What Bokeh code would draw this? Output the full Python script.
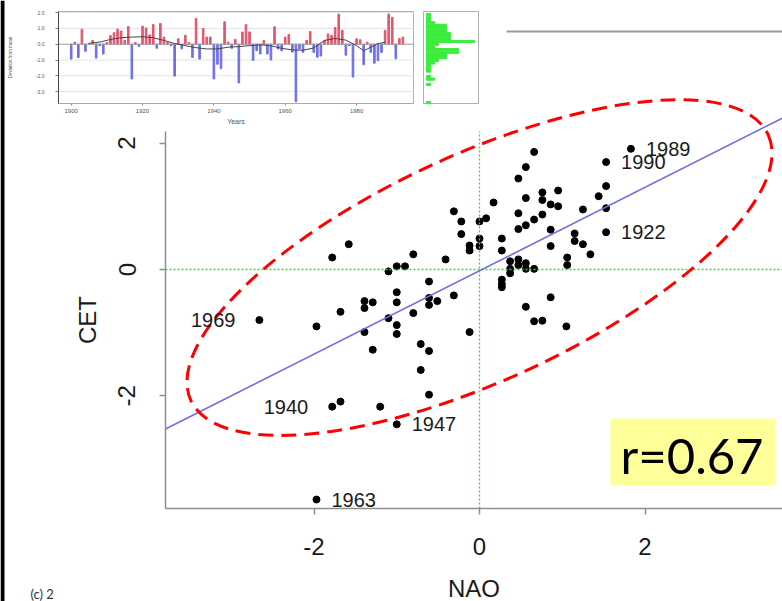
from bokeh.plotting import figure
from bokeh.models import (LinearAxis, FixedTicker, BoxAnnotation, Label,
                          ColumnDataSource, Range1d)
from bokeh.embed import file_html
from bokeh.resources import INLINE
from bokeh.core.properties import value

# ---------------- data ----------------
# main scatter: winter NAO index vs CET anomaly
nao = [1.83, 1.53, 0.66, 0.56, 0.47, 1.53, 0.76, 0.95, 1.44, 0.17,
       0.56, 0.76, 0.86, 0.95, 1.53, 1.25, -0.31, 0.47, 0.76, 0.66,
       -0.22, 0.08, 0.00, 0.56, 0.47, 0.86, 1.53, -0.22, 1.15, 0.00,
       0.27, 1.15, -0.12, 0.00, 0.86, 1.25, -0.12, 0.27, 1.34, -0.41,
       1.06, 0.47, 0.37, 0.56, 0.47, 1.06, 0.37, 0.56, 0.66, 0.37,
       0.27, 0.27, 0.27, -0.31, 0.86, 0.56, 0.66, 0.76, 1.05, -0.12,
       -1.58, -1.78, -0.80, -1.00, -0.90, -1.10, -0.61, -1.00, -1.39, -1.29,
       -1.39, -1.00, -1.68, -0.80, -0.61, -0.51, -0.61, -1.10, -2.66, -1.97,
       -1.39, -1.00, -1.00, -1.29, -0.71, -0.61, -0.71, -0.61, -1.78, -1.68,
       -1.20, -1.00, -1.97]
cet = [1.91, 1.70, 1.86, 1.62, 1.44, 1.32, 1.22, 1.25, 1.16, 1.06,
       1.13, 1.10, 1.03, 1.00, 0.97, 0.95, 0.92, 0.89, 0.87, 0.79,
       0.76, 0.81, 0.76, 0.70, 0.64, 0.63, 0.59, 0.56, 0.57, 0.49,
       0.49, 0.45, 0.38, 0.37, 0.37, 0.40, 0.30, 0.30, 0.24, 0.16,
       0.19, 0.16, 0.13, 0.10, 0.07, 0.07, 0.01, 0.01, 0.01, -0.06,
       -0.16, -0.23, -0.28, -0.41, -0.44, -0.59, -0.82, -0.81, -0.90, -0.99,
       0.40, 0.19, 0.24, 0.05, 0.05, -0.03, -0.19, -0.36, -0.50, -0.52,
       -0.61, -0.52, -0.67, -0.69, -0.45, -0.50, -0.56, -0.77, -0.80, -0.90,
       -0.99, -0.88, -1.02, -1.27, -1.18, -1.29, -1.59, -1.98, -2.17, -2.09,
       -2.17, -2.45, -3.64]

lab_right_years = ["1989", "1990", "1922", "1947", "1963"]
lab_right_nao = [1.83, 1.53, 1.53, -1.00, -1.97]
lab_right_cet = [1.91, 1.70, 0.59, -2.45, -3.64]
lab_left_years = ["1969", "1940"]
lab_left_nao = [-2.66, -1.78]
lab_left_cet = [-0.80, -2.17]

fit_slope = 0.66
fit_intercept = -0.02
r_text = "r=0.67"

main_ticks = [-2, 0, 2]
main_tick_labels = ["-2", "0", "2"]

# inset: CET winter anomaly by year
years = list(range(1900, 1994))
cet_anom = [-0.94, 0.13, -0.84, 0.94, -0.45, 0.05, 0.24, -0.88, -0.10, -0.62,
            0.10, 0.55, 0.73, 0.95, 0.84, 0.24, 1.12, -2.20, 0.10, -0.15,
            1.14, 1.03, 0.59, 1.24, -0.26, 1.31, 0.45, 0.10, -0.10, -2.02,
            0.34, -0.30, 0.56, 0.10, -0.84, 1.63, -0.94, 0.99, 0.45, 0.45,
            -2.20, -1.27, -1.55, 1.42, 0.13, -0.26, 0.30, -2.45, 0.77, 1.24,
            0.78, -1.03, -0.41, -0.62, 0.24, -0.62, -1.00, 1.10, -0.30, -0.41,
            0.45, 0.62, -0.50, -3.64, -0.30, -0.52, 0.24, 0.80, -0.52, -0.82,
            -0.75, 0.24, 0.65, 0.56, 1.05, 1.90, 0.88, -0.70, -0.10, -2.08,
            0.34, 0.28, -1.30, 0.13, -0.52, -1.20, -1.05, -0.52, 0.88, 1.91,
            1.70, -0.92, 0.36, 0.45]
smooth_years = [1905, 1908, 1911, 1914, 1917, 1920, 1923, 1926, 1929, 1932,
                1935, 1938, 1941, 1944, 1947, 1950, 1953, 1956, 1959, 1962,
                1965, 1968, 1971, 1974, 1977, 1980, 1982, 1984, 1986, 1988]
smooth_vals = [0.06, 0.13, 0.30, 0.41, 0.45, 0.47, 0.41, 0.24, 0.04, -0.09,
               -0.22, -0.30, -0.30, -0.19, -0.15, -0.09, -0.04, -0.10, -0.26, -0.36,
               -0.38, -0.24, 0.24, 0.36, 0.26, -0.09, -0.42, -0.19, 0.04, 0.12]
inset_yticks = [-3, -2, -1, 0, 1, 2]
inset_ytick_labels = ["-3.0", "-2.0", "-1.0", "0.0", "1.0", "2.0"]
inset_xticks = [1900, 1920, 1940, 1960, 1980]

# histogram of the anomalies
hist_centers = [1.87, 1.70, 1.53, 1.36, 1.19, 1.02, 0.85, 0.68, 0.51, 0.34,
                0.17, 0.00, -0.17, -0.34, -0.51, -0.68, -0.85, -1.02, -1.19, -1.36,
                -1.53, -1.70, -2.04, -2.21, -2.55, -3.70]
hist_counts = [1, 1, 1, 2, 5, 5, 5, 6, 6, 6,
               12, 3, 2, 8, 8, 5, 5, 3, 2, 1,
               1, 1, 1, 2, 1, 1]

# ---------------- layout helpers (picture pixels -> ranges) ----------------
CW, CH = 782, 601      # canvas size
OX, OY = 0, 0          # picture offset of the canvas


class Mapper:
    def __init__(self, px_at, xval_at, xppu, py_at, yval_at, yppu):
        self.px_at, self.xval_at, self.xppu = px_at, xval_at, xppu
        self.py_at, self.yval_at, self.yppu = py_at, yval_at, yppu

    def x(self, px):
        return self.xval_at + (px - self.px_at) / self.xppu

    def y(self, py):
        return self.yval_at + (self.py_at - py) / self.yppu

    def xrange(self):
        return Range1d(self.x(OX), self.x(OX + CW))

    def yrange(self):
        return Range1d(self.y(OY + CH), self.y(OY))


M = Mapper(479, 0.0, 82.75, 269, 0.0, 63.2)       # main scatter
I = Mapper(70.7, 1900.0, 3.567, 43.7, 0.0, 15.8)  # inset bars
Hm = Mapper(426, 0.0, 4.0, 43.7, 0.0, 15.8)       # inset histogram

mb_left, mb_right = M.x(165), M.x(OX + CW)
mb_bottom, mb_top = M.y(508), M.y(31)
cover_y = M.y(131)
ib_left, ib_right, ib_bottom, ib_top = I.x(58), I.x(413), I.y(103), I.y(11)
hb_left, hb_right = Hm.x(423), Hm.x(478)

FONT = "Liberation Sans"
AX_COL = "#8e8e8e"
TXT = "#1a1a1a"

p = figure(width=CW, height=CH, output_backend="svg", toolbar_location=None,
           x_range=M.xrange(), y_range=M.yrange(),
           x_axis_location=None, y_axis_location=None,
           min_border_left=0, min_border_right=0, min_border_top=0,
           min_border_bottom=0)
p.extra_x_ranges = {"ix": I.xrange(), "hx": Hm.xrange()}
p.extra_y_ranges = {"iy": I.yrange()}
p.outline_line_color = None
p.background_fill_color = "white"
p.border_fill_color = "white"
p.grid.visible = False
for g in p.renderers:
    pass


def style_axis(ax, font_size, label_size):
    ax.major_tick_in = 0
    ax.minor_tick_out = 0
    ax.minor_tick_in = 0
    ax.major_label_text_font = FONT
    ax.major_label_text_font_size = font_size
    ax.axis_label_text_font = FONT
    ax.axis_label_text_font_size = label_size
    ax.axis_label_text_font_style = "normal"


# slide border strip on the left
p.add_layout(BoxAnnotation(left=M.x(0), right=M.x(4), bottom=M.y(CH), top=M.y(0),
                           fill_color="black", fill_alpha=1.0, line_color=None))

# ---- main axes ----
main_over = {int(t): s for t, s in zip(main_ticks, main_tick_labels)}
xax = LinearAxis(fixed_location=mb_bottom, bounds=(mb_left, mb_right),
                 ticker=FixedTicker(ticks=main_ticks), axis_label="NAO",
                 major_label_overrides=main_over)
style_axis(xax, "24px", "24px")
xax.major_tick_out = 6
xax.axis_line_color = AX_COL
xax.axis_line_width = 1.5
xax.major_tick_line_color = AX_COL
xax.major_tick_line_width = 1.5
xax.major_label_text_color = TXT
xax.axis_label_text_color = TXT
xax.major_label_standoff = 23
xax.axis_label_standoff = 17
p.add_layout(xax, "below")

yax = LinearAxis(fixed_location=mb_left, bounds=(mb_bottom, cover_y),
                 ticker=FixedTicker(ticks=main_ticks), axis_label="CET",
                 major_label_overrides=main_over)
style_axis(yax, "24px", "24px")
yax.major_tick_out = 6
yax.axis_line_color = AX_COL
yax.axis_line_width = 1.5
yax.major_tick_line_color = AX_COL
yax.major_tick_line_width = 1.5
yax.major_label_text_color = TXT
yax.axis_label_text_color = TXT
yax.major_label_orientation = "vertical"
yax.major_label_standoff = 24
yax.axis_label_standoff = 15
p.add_layout(yax, "left")

topax = LinearAxis(fixed_location=mb_top, bounds=(M.x(506), mb_right),
                   ticker=FixedTicker(ticks=[]), major_label_text_font_size="0px",
                   major_tick_out=0, major_tick_in=0, minor_tick_out=0,
                   minor_tick_in=0, axis_line_color="#9a9a9a", axis_line_width=2)
p.add_layout(topax, "above")

# ---- main plot marks ----
p.scatter(x=nao, y=cet, size=7, color="black")

p.segment(x0=[0, mb_left], y0=[mb_bottom, 0], x1=[0, mb_right], y1=[cover_y, 0],
          line_color="#3fd43f", line_width=1.3, line_dash="2 2")

fit_x = [mb_left, mb_right]
fit_y = [fit_slope * v + fit_intercept for v in fit_x]
p.line(x=fit_x, y=fit_y, line_color="#6e6ee0", line_width=1.6)

p.ellipse(x=0.0, y=0.03, width=7.68, height=3.58, angle=0.431,
          fill_color=None, line_color="#ff0000", line_width=3, line_dash="15 8")

src_r = ColumnDataSource(dict(x=lab_right_nao, y=lab_right_cet, t=lab_right_years))
p.text(x="x", y="y", text="t", source=src_r, x_offset=15, text_baseline="middle",
       text_align="left", text_font=value(FONT), text_font_size="20px",
       text_color=TXT)
src_l = ColumnDataSource(dict(x=lab_left_nao, y=lab_left_cet, t=lab_left_years))
p.text(x="x", y="y", text="t", source=src_l, x_offset=-24, text_baseline="middle",
       text_align="right", text_font=value(FONT), text_font_size="20px",
       text_color=TXT)

p.add_layout(BoxAnnotation(left=M.x(610), right=M.x(775), top=M.y(418),
                           bottom=M.y(485), fill_color="#ffff99", fill_alpha=1.0,
                           line_color=None))
p.add_layout(Label(x=M.x(691.5), y=M.y(454), text=r_text, text_align="center",
                   text_baseline="middle", text_font="Lato",
                   text_font_size="49px", text_color="black"))
p.add_layout(Label(x=M.x(30), y=M.y(585), text="(c) 2", text_align="left",
                   text_baseline="top", text_font="Lato",
                   text_font_size="13px", text_color="#333333"))

# ---- inset: bars by year ----
p.quad(left=ib_left, right=ib_right, bottom=ib_bottom, top=ib_top,
       x_range_name="ix", y_range_name="iy", fill_color="white",
       line_color="#b0b0b0", line_width=1)
grid_ticks = [t for t in inset_yticks if t != 0]
p.segment(x0=[ib_left] * len(grid_ticks), x1=[ib_right] * len(grid_ticks),
          y0=grid_ticks, y1=grid_ticks, x_range_name="ix", y_range_name="iy",
          line_color="#e4e4e4", line_width=1)
bar_colors = ["#e2566e" if v >= 0 else "#6f6fe6" for v in cet_anom]
p.vbar(x=years, top=cet_anom, bottom=0, width=0.45, color=bar_colors,
       x_range_name="ix", y_range_name="iy")
p.segment(x0=[ib_left], x1=[ib_right], y0=[0], y1=[0], x_range_name="ix",
          y_range_name="iy", line_color="#9a9a9a", line_width=1)
p.line(x=smooth_years, y=smooth_vals, line_color="#444444", line_width=1,
       x_range_name="ix", y_range_name="iy")

iyax = LinearAxis(x_range_name="ix", y_range_name="iy", fixed_location=ib_left,
                  bounds=(ib_bottom, ib_top), ticker=FixedTicker(ticks=inset_yticks),
                  major_label_overrides={int(t): s for t, s in
                                         zip(inset_yticks, inset_ytick_labels)},
                  axis_label="Deviation from mean")
style_axis(iyax, "5px", "4.5px")
iyax.major_tick_out = 3
iyax.axis_line_color = "#444444"
iyax.major_tick_line_color = "#777777"
iyax.major_label_text_color = "#555555"
iyax.axis_label_text_color = "#555555"
iyax.major_label_standoff = 11
iyax.axis_label_standoff = 20
p.add_layout(iyax, "left")

ixax = LinearAxis(x_range_name="ix", y_range_name="iy", fixed_location=ib_bottom,
                  bounds=(ib_left, ib_right), ticker=FixedTicker(ticks=inset_xticks),
                  axis_label="Years")
style_axis(ixax, "6px", "7px")
ixax.major_tick_out = 2
ixax.axis_line_color = "#aaaaaa"
ixax.major_tick_line_color = "#888888"
ixax.major_label_text_color = "#555555"
ixax.axis_label_text_color = "#555555"
ixax.major_label_standoff = 3
ixax.axis_label_standoff = 2
p.add_layout(ixax, "below")

# ---- inset: histogram ----
p.quad(left=hb_left, right=hb_right, bottom=ib_bottom, top=ib_top,
       x_range_name="hx", y_range_name="iy", fill_color="white",
       line_color="#b0b0b0", line_width=1)
p.hbar(y=hist_centers, left=0, right=hist_counts, height=0.14, color="#3cec3c",
       x_range_name="hx", y_range_name="iy")

open("out.html", "w").write(file_html(p, INLINE))
